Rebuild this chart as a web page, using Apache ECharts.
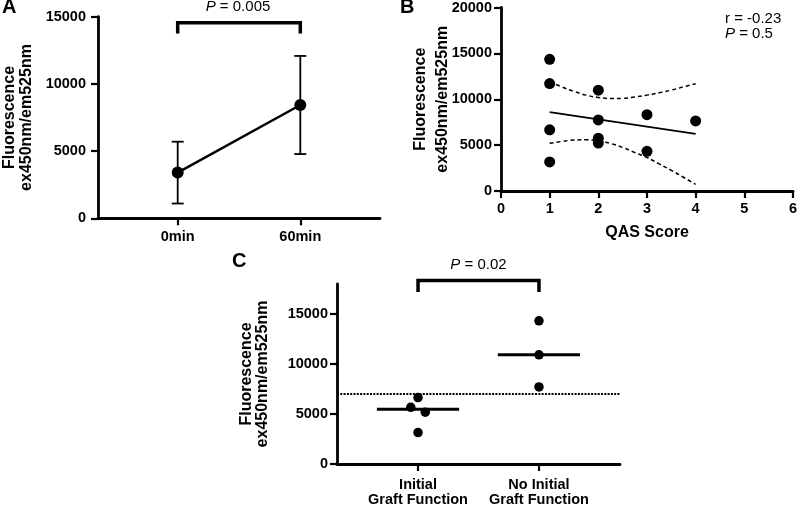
<!DOCTYPE html>
<html>
<head>
<meta charset="utf-8">
<script src="https://cdn.jsdelivr.net/npm/echarts@6/dist/echarts.min.js"></script>
<style>
html,body{margin:0;padding:0;background:#fff;}
#chart{width:800px;height:507px;}
</style>
</head>
<body>
<div id="chart"></div>
<script>
// ---------- Data ----------
// Panel A
const aCategories = ['0min', '60min'];
const aPos = [1, 2];
const aMeans = [3400, 8430];
const aErr = [2300, 3650];
const aBracket = { from: 1, to: 2, top: 14550, leg: 13750 };
const aYTicks = [0, 5000, 10000, 15000];

// Panel B
const bX = [1, 1, 1, 1, 2, 2, 2, 2, 3, 3, 4];
const bY = [14350, 11710, 6670, 3170, 10990, 7750, 5760, 5220, 8320, 4320, 7640];
const bFitX = [1, 4];
const bFitY = [8600, 6220];
const bBandX = [1, 1.25, 1.5, 1.75, 2, 2.25, 2.5, 2.75, 3, 3.25, 3.5, 3.75, 4];
const bUpper = [11900, 11350, 10850, 10450, 10200, 10080, 10100, 10250, 10450, 10700, 11000, 11350, 11700];
const bLower = [5200, 5400, 5550, 5580, 5450, 5180, 4750, 4200, 3650, 2950, 2250, 1500, 720];
const bXTicks = [0, 1, 2, 3, 4, 5, 6];
const bYTicks = [0, 5000, 10000, 15000, 20000];

// Panel C
const cCategories = ['Initial\nGraft Function', 'No Initial\nGraft Function'];
const cPos = [1, 2];
const cInitialX = [1, 0.94, 1.06, 1];
const cInitialY = [6640, 5670, 5180, 3140];
const cNoInitialX = [2, 2, 2];
const cNoInitialY = [14320, 10920, 7710];
const cMedians = [5470, 10920];
const cThreshold = 7000;
const cBracket = { from: 1, to: 2, top: 18350, leg: 17200 };
const cYTicks = [0, 5000, 10000, 15000];

// ---------- Styles ----------
const FONT = '"Liberation Sans", Arial, Helvetica, sans-serif';
const BLACK = '#000';
const AXW = 2.8;
const TICKFS = 14.5;

function valueLabelAxisX(gridIndex, min, max, pos, cats, margin) {
  return {
    type: 'value', gridIndex, min, max,
    axisLine: { show: true, onZero: false, lineStyle: { color: BLACK, width: AXW } },
    axisTick: { show: true, customValues: pos, length: 7, lineStyle: { color: BLACK, width: 2.2 } },
    axisLabel: {
      customValues: pos, color: BLACK, fontFamily: FONT, fontWeight: 'bold', fontSize: TICKFS, margin, lineHeight: 15,
      formatter: v => { const i = pos.indexOf(v); return i >= 0 ? cats[i] : ''; }
    },
    splitLine: { show: false }
  };
}
function yAxisDef(gridIndex, max, ticks, nameGap, lineHeight, margin) {
  return {
    type: 'value', gridIndex, min: 0, max,
    name: 'Fluorescence\nex450nm/em525nm',
    nameLocation: 'middle', nameRotate: 90, nameGap, nameMoveOverlap: false,
    nameTextStyle: { color: BLACK, fontFamily: FONT, fontWeight: 'bold', fontSize: 16, lineHeight },
    axisLine: { show: true, onZero: false, lineStyle: { color: BLACK, width: AXW } },
    axisTick: { show: true, customValues: ticks, length: 7, lineStyle: { color: BLACK, width: 2.2 } },
    axisLabel: { customValues: ticks, color: BLACK, fontFamily: FONT, fontWeight: 'bold', fontSize: TICKFS, margin,
      formatter: v => String(v) },
    splitLine: { show: false }
  };
}

function errorBarRender(params, api) {
  const x = api.value(0), lo = api.value(1), hi = api.value(2);
  const pHi = api.coord([x, hi]), pLo = api.coord([x, lo]);
  const w = 6;
  const st = { stroke: BLACK, lineWidth: 1.8 };
  return {
    type: 'group',
    children: [
      { type: 'line', shape: { x1: pHi[0], y1: pHi[1], x2: pLo[0], y2: pLo[1] }, style: st },
      { type: 'line', shape: { x1: pHi[0] - w, y1: pHi[1], x2: pHi[0] + w, y2: pHi[1] }, style: st },
      { type: 'line', shape: { x1: pLo[0] - w, y1: pLo[1], x2: pLo[0] + w, y2: pLo[1] }, style: st }
    ]
  };
}

function bracketData(b) {
  return [[b.from, b.leg], [b.from, b.top], [b.to, b.top], [b.to, b.leg]];
}

const aLineData = aPos.map((x, i) => [x, aMeans[i]]);
const aErrData = aPos.map((x, i) => [x, aMeans[i] - aErr[i], aMeans[i] + aErr[i]]);
const bScatter = bX.map((x, i) => [x, bY[i]]);
const bFit = bFitX.map((x, i) => [x, bFitY[i]]);
const bUp = bBandX.map((x, i) => [x, bUpper[i]]);
const bLo = bBandX.map((x, i) => [x, bLower[i]]);
const cInit = cInitialX.map((x, i) => [x, cInitialY[i]]);
const cNoInit = cNoInitialX.map((x, i) => [x, cNoInitialY[i]]);
const medHalf = 0.34;
const dotStyle = { color: BLACK, opacity: 1, borderWidth: 0 };

const chart = echarts.init(document.getElementById('chart'), null, { renderer: 'canvas' });
const italicRich = { i: { fontStyle: 'italic', fontSize: 15, fontFamily: FONT, fill: BLACK } };
const option = {
  animation: false,
  backgroundColor: '#fff',
  textStyle: { fontFamily: FONT, color: BLACK },
  grid: [
    { left: 95, top: 16.7, width: 285, height: 201.6 },
    { left: 501, top: 6, width: 295, height: 185 },
    { left: 337, top: 284, width: 283, height: 185 }
  ],
  xAxis: [
    valueLabelAxisX(0, 0.35, 2.65, aPos, aCategories, 11),
    {
      type: 'value', gridIndex: 1, min: 0, max: 6, interval: 1,
      name: 'QAS Score', nameLocation: 'middle', nameGap: 34,
      nameTextStyle: { color: BLACK, fontFamily: FONT, fontWeight: 'bold', fontSize: 16 },
      axisLine: { show: true, onZero: false, lineStyle: { color: BLACK, width: AXW } },
      axisTick: { show: true, customValues: bXTicks, length: 7, lineStyle: { color: BLACK, width: 2.2 } },
      axisLabel: { customValues: bXTicks, color: BLACK, fontFamily: FONT, fontWeight: 'bold', fontSize: TICKFS, margin: 10,
        formatter: v => String(v) },
      splitLine: { show: false }
    },
    valueLabelAxisX(2, 0.33, 2.67, cPos, cCategories, 13)
  ],
  yAxis: [
    yAxisDef(0, 15000, aYTicks, 63, 17, 12),
    yAxisDef(1, 20000, bYTicks, 47.5, 22, 9),
    yAxisDef(2, 18000, cYTicks, 65.75, 16.5, 9)
  ],
  series: [
    // Panel A
    { type: 'custom', xAxisIndex: 0, yAxisIndex: 0, renderItem: errorBarRender, data: aErrData, z: 2 },
    { type: 'line', xAxisIndex: 0, yAxisIndex: 0, data: aLineData, symbol: 'circle', symbolSize: 12,
      itemStyle: dotStyle, lineStyle: { color: BLACK, width: 2.5 }, z: 3 },
    { type: 'line', xAxisIndex: 0, yAxisIndex: 0, data: bracketData(aBracket), symbol: 'none', clip: false,
      lineStyle: { color: BLACK, width: 3.5, join: 'miter' } },
    // Panel B
    { type: 'line', xAxisIndex: 1, yAxisIndex: 1, data: bUp, symbol: 'none', smooth: true,
      lineStyle: { color: BLACK, width: 1.5, type: [4, 3] } },
    { type: 'line', xAxisIndex: 1, yAxisIndex: 1, data: bLo, symbol: 'none', smooth: true,
      lineStyle: { color: BLACK, width: 1.5, type: [4, 3] } },
    { type: 'line', xAxisIndex: 1, yAxisIndex: 1, data: bFit, symbol: 'none',
      lineStyle: { color: BLACK, width: 1.8 } },
    { type: 'scatter', xAxisIndex: 1, yAxisIndex: 1, data: bScatter, symbol: 'circle', symbolSize: 11,
      itemStyle: dotStyle, z: 4 },
    // Panel C
    { type: 'line', xAxisIndex: 2, yAxisIndex: 2, data: [[0.33, cThreshold], [2.67, cThreshold]], symbol: 'none',
      lineStyle: { color: BLACK, width: 2, type: [2, 1.3] } },
    { type: 'line', xAxisIndex: 2, yAxisIndex: 2, data: [[cPos[0] - medHalf, cMedians[0]], [cPos[0] + medHalf, cMedians[0]]], symbol: 'none',
      lineStyle: { color: BLACK, width: 3 } },
    { type: 'line', xAxisIndex: 2, yAxisIndex: 2, data: [[cPos[1] - medHalf, cMedians[1]], [cPos[1] + medHalf, cMedians[1]]], symbol: 'none',
      lineStyle: { color: BLACK, width: 3 } },
    { type: 'scatter', xAxisIndex: 2, yAxisIndex: 2, data: cInit, symbol: 'circle', symbolSize: 9.5,
      itemStyle: dotStyle, z: 4 },
    { type: 'scatter', xAxisIndex: 2, yAxisIndex: 2, data: cNoInit, symbol: 'circle', symbolSize: 9.5,
      itemStyle: dotStyle, z: 4 },
    { type: 'line', xAxisIndex: 2, yAxisIndex: 2, data: bracketData(cBracket), symbol: 'none', clip: false,
      lineStyle: { color: BLACK, width: 3.5, join: 'miter' } }
  ],
  graphic: [
    { type: 'text', left: 2, top: -3, style: { text: 'A', font: 'bold 20px ' + FONT, fill: BLACK } },
    { type: 'text', left: 400, top: -3, style: { text: 'B', font: 'bold 20px ' + FONT, fill: BLACK } },
    { type: 'text', left: 232, top: 251, style: { text: 'C', font: 'bold 20px ' + FONT, fill: BLACK } },
    { type: 'text', x: 238, y: 6.5, style: { text: '{i|P} = 0.005', font: '15px ' + FONT, fill: BLACK, align: 'center', verticalAlign: 'middle', rich: italicRich } },
    { type: 'text', x: 725, y: 18.5, style: { text: 'r = -0.23', font: '15px ' + FONT, fill: BLACK, align: 'left', verticalAlign: 'middle' } },
    { type: 'text', x: 725, y: 34, style: { text: '{i|P} = 0.5', font: '15px ' + FONT, fill: BLACK, align: 'left', verticalAlign: 'middle', rich: italicRich } },
    { type: 'text', x: 478.5, y: 265, style: { text: '{i|P} = 0.02', font: '15px ' + FONT, fill: BLACK, align: 'center', verticalAlign: 'middle', rich: italicRich } }
  ]
};
chart.setOption(option);
</script>
</body>
</html>
